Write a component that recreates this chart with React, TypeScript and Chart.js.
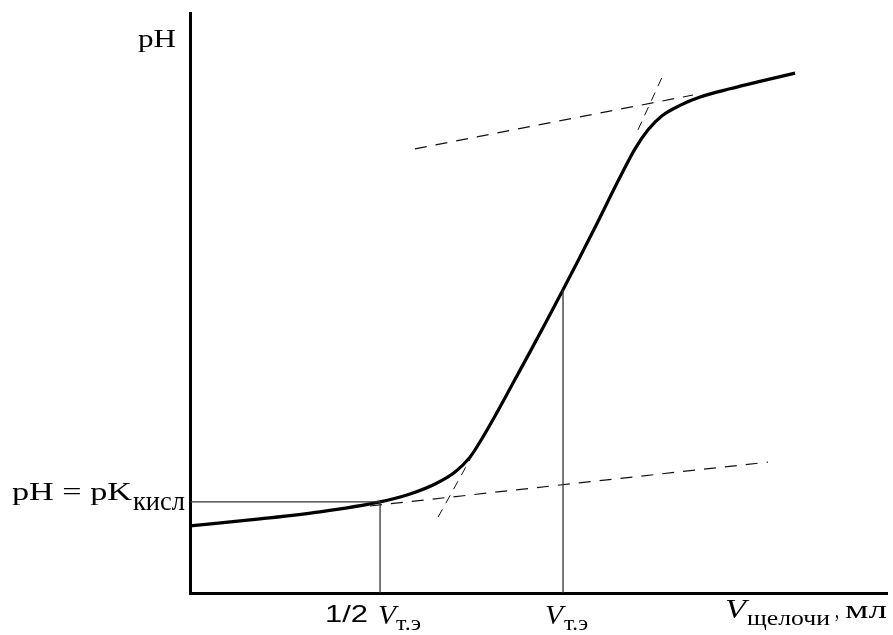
import React, { useEffect, useRef } from "react";
import { Chart, registerables } from "chart.js";

Chart.register(...registerables);

// Titration curve (volume of alkali in ml, pH)
const curveVolume = [0, 3.75, 6.97, 10.19, 11.8, 13.14, 14.21, 15.01, 15.71, 16.46, 17.32, 18.23, 19.09, 20.0, 20.86, 21.72, 23.06, 23.86, 24.56, 25.31, 26.27, 27.35, 28.95, 30.56, 32.44];
const curvePH = [1.62, 1.79, 1.96, 2.2, 2.39, 2.63, 2.92, 3.28, 3.77, 4.36, 5.07, 5.82, 6.54, 7.32, 8.07, 8.83, 10.04, 10.72, 11.18, 11.52, 11.77, 11.97, 12.17, 12.35, 12.55];

// Equivalence point and half-equivalence point
const V_EQ = 20.0;
const PH_EQ = 7.32;
const V_HALF = 10.19;
const PKA = 2.2;

// Tangent (construction) lines
const lowBaseV = [9.65, 30.99];
const lowBasePH = [2.1, 3.16];
const highBaseV = [12.06, 26.97];
const highBasePH = [10.72, 12.02];
const lowSteepV = [13.3, 15.12];
const lowSteepPH = [1.83, 3.31];
const highSteepV = [24.02, 25.36];
const highSteepPH = [11.18, 12.5];

const X_MAX = 37.37;
const Y_MAX = 14;

const zip = (xs: number[], ys: number[]) => xs.map((x, i) => ({ x, y: ys[i] }));

const SERIF = '"Liberation Serif", "Times New Roman", serif';
const SANS = '"Liberation Sans", Arial, sans-serif';

function put(ctx: CanvasRenderingContext2D, text: string, font: string, left: number, baseline: number, width: number) {
  ctx.save();
  ctx.font = font;
  ctx.textAlign = "left";
  ctx.textBaseline = "alphabetic";
  ctx.fillStyle = "#000";
  const w = ctx.measureText(text).width;
  ctx.translate(left, baseline);
  ctx.scale(width / w, 1);
  ctx.fillText(text, 0, 0);
  ctx.restore();
}

const labelPlugin = {
  id: "labels",
  afterDraw(chart: any) {
    const ctx = chart.ctx as CanvasRenderingContext2D;
    const xs = chart.scales.x;
    const ys = chart.scales.y;
    const area = chart.chartArea;
    const yb = ys.getPixelForValue(0);
    const pk = ys.getPixelForValue(PKA);
    const ah = xs.getPixelForValue(V_HALF);
    const ae = xs.getPixelForValue(V_EQ);

    // y axis title
    put(ctx, "pH", `26px ${SERIF}`, area.left - 52, area.top + 34, 38);
    // pKa label
    put(ctx, "pH = pK", `26px ${SERIF}`, 12, pk - 2, 120);
    put(ctx, "кисл", `27px ${SERIF}`, 133, pk + 8, 52);

    // 1/2 V т.э
    put(ctx, "1/2", `24px ${SANS}`, ah - 55, yb + 29, 43);
    put(ctx, "V", `italic 28px ${SERIF}`, ah - 2, yb + 31, 18);
    put(ctx, "т.э", `22px ${SERIF}`, ah + 16, yb + 37, 25);

    // V т.э
    put(ctx, "V", `italic 28px ${SERIF}`, ae - 18, yb + 31, 18);
    put(ctx, "т.э", `22px ${SERIF}`, ae + 1, yb + 37, 24);

    // V щелочи, мл
    const r = area.right;
    put(ctx, "V", `italic 28px ${SERIF}`, r - 162, yb + 25, 21);
    put(ctx, "щелочи", `22px ${SERIF}`, r - 140, yb + 32, 83);
    put(ctx, ",", `26px ${SERIF}`, r - 52, yb + 25, 4);
    put(ctx, "мл", `26px ${SERIF}`, r - 42, yb + 25, 42);
  },
};

export default function App() {
  const ref = useRef<HTMLCanvasElement | null>(null);

  useEffect(() => {
    if (!ref.current) return;
    const thin = { borderColor: "#333", borderWidth: 1.3, pointRadius: 0, showLine: true, fill: false, clip: false as any };
    const dashed = (w: number, dash: number[]) => ({ borderColor: "#111", borderWidth: w, borderDash: dash, pointRadius: 0, showLine: true, clip: false as any });
    const chart = new Chart(ref.current, {
      type: "scatter",
      data: {
        datasets: [
          { data: [{ x: 0, y: PKA }, { x: V_HALF, y: PKA }], ...thin },
          { data: [{ x: V_HALF, y: 0 }, { x: V_HALF, y: PKA }], ...thin },
          { data: [{ x: V_EQ, y: 0 }, { x: V_EQ, y: PH_EQ }], ...thin },
          { data: zip(lowBaseV, lowBasePH), ...dashed(1.2, [12, 9]) },
          { data: zip(highBaseV, highBasePH), ...dashed(1.2, [12, 9]) },
          { data: zip(lowSteepV, lowSteepPH), ...dashed(1, [9, 7]) },
          { data: zip(highSteepV, highSteepPH), ...dashed(1, [9, 7]) },
          {
            data: zip(curveVolume, curvePH),
            borderColor: "#000",
            borderWidth: 3.2,
            pointRadius: 0,
            showLine: true,
            cubicInterpolationMode: "monotone",
            clip: false as any,
          },
        ],
      },
      options: {
        responsive: false,
        animation: false,
        events: [],
        layout: { padding: { left: 190, top: 13, right: 6, bottom: 42 } },
        plugins: { legend: { display: false }, tooltip: { enabled: false } },
        scales: {
          x: {
            type: "linear",
            min: 0,
            max: X_MAX,
            grid: { display: false, drawTicks: false },
            ticks: { display: false },
            border: { display: true, color: "#000", width: 3 },
            afterFit: (s: any) => { s.height = 0; },
          },
          y: {
            type: "linear",
            min: 0,
            max: Y_MAX,
            grid: { display: false, drawTicks: false },
            ticks: { display: false },
            border: { display: true, color: "#000", width: 3 },
            afterFit: (s: any) => { s.width = 0; },
          },
        },
      },
      plugins: [labelPlugin],
    });
    return () => chart.destroy();
  }, []);

  return (
    <div style={{ position: "fixed", left: 0, top: 0, width: 893, height: 635, background: "#fff" }}>
      <canvas ref={ref} width={893} height={635} style={{ display: "block" }} />
    </div>
  );
}
